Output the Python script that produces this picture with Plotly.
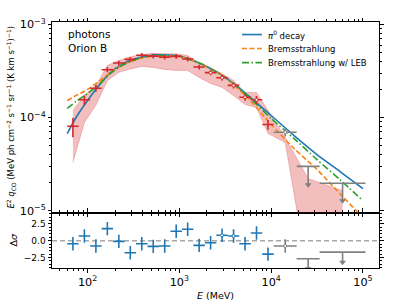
import numpy as np
import plotly.graph_objects as go

# ---------------- data ----------------
# energy bin edges (MeV) of the detected points
bin_edges = [60, 80.0, 106.7, 142.3, 189.7, 253.0, 337.4, 449.9, 600, 800.1,
             1067, 1423, 1897, 2530, 3374, 4499, 6000, 8001, 10670]
flux = [8.05e-5, 1.55e-4, 2.06e-4, 3.26e-4, 3.84e-4, 4.21e-4, 4.65e-4, 4.56e-4,
        4.45e-4, 4.53e-4, 4.24e-4, 3.48e-4, 3.03e-4, 2.67e-4, 2.21e-4, 1.65e-4,
        1.55e-4, 8.4e-5]
flux_err = [1.9e-5, 1.8e-5, 1.7e-5, 2.0e-5, 2.3e-5, 2.5e-5, 2.8e-5, 2.7e-5,
            2.7e-5, 2.7e-5, 2.5e-5, 2.1e-5, 1.9e-5, 1.8e-5, 1.6e-5, 1.4e-5,
            1.5e-5, 1.0e-5]
hollow_flux = [12, 13, 14, 15, 16]

# low-significance point
gray_edges = [10670, 18974]
gray_flux = 6.95e-5
gray_err = 7e-6

# upper limits
ul_lo = [18974, 33740]
ul_hi = [33740, 106700]
ul_flux = [2.99e-5, 1.97e-5]
ul_arrow = [1.09e-5, 0.69e-5]

# systematic band at bin centres (18 detected + gray point + 2 upper limits)
band_upper = [1.19e-4, 1.72e-4, 2.21e-4, 3.62e-4, 4.10e-4, 4.48e-4, 4.75e-4, 4.88e-4,
              4.82e-4, 4.82e-4, 4.64e-4, 3.81e-4, 3.37e-4, 2.97e-4, 2.50e-4, 1.86e-4,
              1.86e-4, 1.19e-4, 6.10e-5, 2.21e-5, 1.64e-5]
band_lower = [3.28e-5, 8.83e-5, 1.35e-4, 2.50e-4, 3.05e-4, 3.32e-4, 3.53e-4, 3.45e-4,
              3.28e-4, 3.20e-4, 3.20e-4, 2.69e-4, 2.32e-4, 2.10e-4, 1.72e-4, 1.38e-4,
              1.28e-4, 6.73e-5, 5.38e-5, 2.0e-6, 1.0e-6]

# model curves
model_E = [60, 75, 100, 133, 178, 237, 316, 422, 562, 1000, 1778, 3162, 5623,
           10000, 17783, 31623, 56234, 100000]
pi0 = [6.73e-5, 1.0e-4, 1.52e-4, 2.21e-4, 3.05e-4, 3.72e-4, 4.21e-4, 4.53e-4, 4.70e-4,
       4.58e-4, 3.72e-4, 2.69e-4, 1.72e-4, 1.05e-4, 6.40e-5, 4.00e-5, 2.63e-5, 1.72e-5]
brems = [1.52e-4, 1.72e-4, 2.0e-4, 2.44e-4, 3.05e-4, 3.62e-4, 4.10e-4, 4.42e-4, 4.58e-4,
         4.53e-4, 3.72e-4, 2.69e-4, 1.60e-4, 8.41e-5, 4.64e-5, 2.76e-5, 1.52e-5, 8.4e-6]
brems_leb = [1.25e-4, 1.49e-4, 1.81e-4, 2.26e-4, 2.97e-4, 3.62e-4, 4.10e-4, 4.48e-4, 4.64e-4,
             4.53e-4, 3.72e-4, 2.69e-4, 1.68e-4, 9.75e-5, 5.94e-5, 3.53e-5, 2.15e-5, 1.28e-5]
model_names = ['<i>π</i><sup>0</sup> decay', 'Bremsstrahlung', 'Bremsstrahlung w/ LEB']

# residuals (sigma)
resid = [-0.45, 0.7, -0.8, 1.8, -0.1, -1.8, -0.45, -0.85, -0.8, 1.4, 1.7, -0.7,
         -0.3, 0.8, 0.7, -0.45, 1.15, -2.0]
resid_err = 1.0
hollow_resid = [13, 14]
gray_resid = -0.8
ul_resid = [-2.7, -1.7]
ul_resid_arrow = 1.5

# ---------------- derived ----------------
lo = np.array(bin_edges[:-1]); hi = np.array(bin_edges[1:])
cen = np.sqrt(lo * hi)
g_c = np.sqrt(gray_edges[0] * gray_edges[1])
ul_c = np.sqrt(np.array(ul_lo) * np.array(ul_hi))
band_x = list(cen) + [g_c] + list(ul_c)

RED = '#d62728'; BLUE = '#1f77b4'; ORANGE = '#ff7f0e'; GREEN = '#2ca02c'; GRAY = '#808080'
FONT = 'DejaVu Sans'
LW = 1.6
INVIS = dict(size=2, opacity=0)

fig = go.Figure()

# band
fig.add_trace(go.Scatter(x=band_x, y=band_lower, mode='lines', xaxis='x2', yaxis='y2',
                         line=dict(color='rgba(214,39,40,0.3)', width=0.8), showlegend=False,
                         hoverinfo='skip'))
fig.add_trace(go.Scatter(x=band_x, y=band_upper, mode='lines', xaxis='x2', yaxis='y2',
                         fill='tonexty', fillcolor='rgba(214,39,40,0.3)',
                         line=dict(color='rgba(214,39,40,0.3)', width=0.8), showlegend=False,
                         hoverinfo='skip'))

# models
styles = [dict(color=BLUE, dash='solid'),
          dict(color=ORANGE, dash='5px,2.5px'),
          dict(color=GREEN, dash='7px,2.5px,1.5px,2.5px')]
for yv, st, nm in zip([pi0, brems, brems_leb], styles, model_names):
    fig.add_trace(go.Scatter(x=model_E, y=yv, mode='lines', xaxis='x2', yaxis='y2',
                             line=dict(color=st['color'], width=LW, dash=st['dash'],
                                       shape='spline', smoothing=0.6),
                             name=nm, showlegend=False))

# data points
fig.add_trace(go.Scatter(x=cen, y=flux, mode='markers', xaxis='x2', yaxis='y2',
                         marker=INVIS, showlegend=False,
                         error_x=dict(type='data', symmetric=False, array=hi - cen, arrayminus=cen - lo,
                                      color=RED, thickness=LW, width=0),
                         error_y=dict(type='data', array=flux_err, color=RED, thickness=LW, width=0)))
fig.add_trace(go.Scatter(x=[cen[i] for i in hollow_flux], y=[flux[i] for i in hollow_flux],
                         mode='markers', xaxis='x2', yaxis='y2', showlegend=False,
                         marker=dict(size=3, color='white', line=dict(color=RED, width=1))))

# gray point
fig.add_trace(go.Scatter(x=[g_c], y=[gray_flux], mode='markers', xaxis='x2', yaxis='y2',
                         marker=dict(size=3, color='white', line=dict(color=GRAY, width=1)),
                         showlegend=False,
                         error_x=dict(type='data', symmetric=False, array=[gray_edges[1] - g_c],
                                      arrayminus=[g_c - gray_edges[0]], color=GRAY, thickness=LW, width=0),
                         error_y=dict(type='data', array=[gray_err], color=GRAY, thickness=LW, width=0)))
# upper limits (top)
fig.add_trace(go.Scatter(x=ul_c, y=ul_flux, mode='markers', xaxis='x2', yaxis='y2',
                         marker=INVIS, showlegend=False,
                         error_x=dict(type='data', symmetric=False, array=np.array(ul_hi) - ul_c,
                                      arrayminus=ul_c - np.array(ul_lo), color=GRAY, thickness=LW, width=0),
                         error_y=dict(type='data', symmetric=False, array=[0, 0], arrayminus=ul_arrow,
                                      color=GRAY, thickness=LW, width=0)))
fig.add_trace(go.Scatter(x=ul_c, y=np.array(ul_flux) - np.array(ul_arrow), mode='markers',
                         xaxis='x2', yaxis='y2', showlegend=False,
                         marker=dict(symbol='triangle-down', size=6, color=GRAY)))

# residuals
fig.add_trace(go.Scatter(x=cen, y=resid, mode='markers', xaxis='x', yaxis='y',
                         marker=INVIS, showlegend=False,
                         error_x=dict(type='data', symmetric=False, array=hi - cen, arrayminus=cen - lo,
                                      color=BLUE, thickness=LW, width=0),
                         error_y=dict(type='constant', value=resid_err, color=BLUE, thickness=LW, width=0)))
fig.add_trace(go.Scatter(x=[cen[i] for i in hollow_resid], y=[resid[i] for i in hollow_resid],
                         mode='markers', xaxis='x', yaxis='y', showlegend=False,
                         marker=dict(size=3, color='white', line=dict(color=BLUE, width=1))))
fig.add_trace(go.Scatter(x=[g_c], y=[gray_resid], mode='markers', xaxis='x', yaxis='y',
                         marker=dict(size=3, color='white', line=dict(color=GRAY, width=1)),
                         showlegend=False,
                         error_x=dict(type='data', symmetric=False, array=[gray_edges[1] - g_c],
                                      arrayminus=[g_c - gray_edges[0]], color=GRAY, thickness=LW, width=0),
                         error_y=dict(type='constant', value=resid_err, color=GRAY, thickness=LW, width=0)))
fig.add_trace(go.Scatter(x=ul_c, y=ul_resid, mode='markers', xaxis='x', yaxis='y',
                         marker=INVIS, showlegend=False,
                         error_x=dict(type='data', symmetric=False, array=np.array(ul_hi) - ul_c,
                                      arrayminus=ul_c - np.array(ul_lo), color=GRAY, thickness=LW, width=0),
                         error_y=dict(type='data', symmetric=False, array=[0, 0],
                                      arrayminus=[ul_resid_arrow] * 2, color=GRAY, thickness=LW, width=0)))
fig.add_trace(go.Scatter(x=ul_c, y=np.array(ul_resid) - ul_resid_arrow, mode='markers',
                         xaxis='x', yaxis='y', showlegend=False, cliponaxis=True,
                         marker=dict(symbol='triangle-down', size=6, color=GRAY)))

# zero line in residual panel
fig.add_shape(type='line', xref='x domain', yref='y', x0=0, x1=1, y0=0, y1=0,
              line=dict(color='#a8a8a8', width=1.6, dash='5px,3px'), layer='below')

# legend (drawn compactly, matplotlib-style)
leg_y = [0.949, 0.892, 0.835]
for st, nm, yy in zip(styles, model_names, leg_y):
    fig.add_shape(type='line', xref='paper', yref='paper', x0=0.581, x1=0.642, y0=yy, y1=yy,
                  line=dict(color=st['color'], width=LW, dash=st['dash']))
    fig.add_annotation(text=nm, xref='paper', yref='paper', x=0.655, y=yy, xanchor='left',
                       yanchor='middle', showarrow=False,
                       font=dict(family=FONT, size=8.5, color='black'))

axis_common = dict(showline=True, linecolor='black', linewidth=1, mirror='ticks',
                   ticks='outside', ticklen=3.5, tickwidth=1, tickcolor='black', automargin=False,
                   showgrid=False, zeroline=False, tickfont=dict(family=FONT, size=9, color='black'))
SPLIT = 0.2256
fig.update_layout(
    width=407, height=305, margin=dict(l=52, r=28, t=22, b=37),
    plot_bgcolor='white', paper_bgcolor='white',
    font=dict(family=FONT, size=9, color='black'),
    xaxis=dict(type='log', range=[1.6127, 5.175], anchor='y', domain=[0, 1], dtick=1,
               exponentformat='power',
               minor=dict(ticks='outside', ticklen=2, tickcolor='black', dtick='D1', showgrid=False),
               title=dict(text='<i>E</i> (MeV)', font=dict(family=FONT, size=9.5), standoff=4),
               **axis_common),
    xaxis2=dict(type='log', matches='x', anchor='y2', domain=[0, 1], dtick=1, showticklabels=False,
                minor=dict(ticks='outside', ticklen=2, tickcolor='black', dtick='D1', showgrid=False),
                **axis_common),
    yaxis=dict(domain=[0, SPLIT], range=[-4.07, 4.2], anchor='x', dtick=2.5, tick0=0,
               tickformat='.1f',
               minor=dict(ticks='outside', ticklen=2, tickcolor='black', dtick=0.5, showgrid=False),
               title=dict(text='Δ<i>σ</i>', font=dict(family=FONT, size=9.5), standoff=4),
               **axis_common),
    yaxis2=dict(domain=[SPLIT, 1], type='log', range=[-5.02, -2.975], anchor='x2', dtick=1,
                exponentformat='power',
                minor=dict(ticks='outside', ticklen=2, tickcolor='black', dtick='D1', showgrid=False),
                title=dict(text='<i>E</i><sup>2</sup> <i>q</i><sub>CO</sub> (MeV ph cm<sup>−2</sup> s<sup>−1</sup> sr<sup>−1</sup> (K km s<sup>−1</sup>)<sup>−1</sup>)',
                           font=dict(family=FONT, size=8.5), standoff=3),
                **axis_common),
    showlegend=False,
)
fig.add_annotation(text='photons<br>Orion B', xref='paper', yref='paper', x=0.042, y=0.985,
                   xanchor='left', yanchor='top', showarrow=False, align='left',
                   font=dict(family=FONT, size=10.5, color='black'))

fig.write_html('out.html', config={'displayModeBar': False},
               post_script="document.body.style.margin='0';document.body.style.overflow='hidden';")
